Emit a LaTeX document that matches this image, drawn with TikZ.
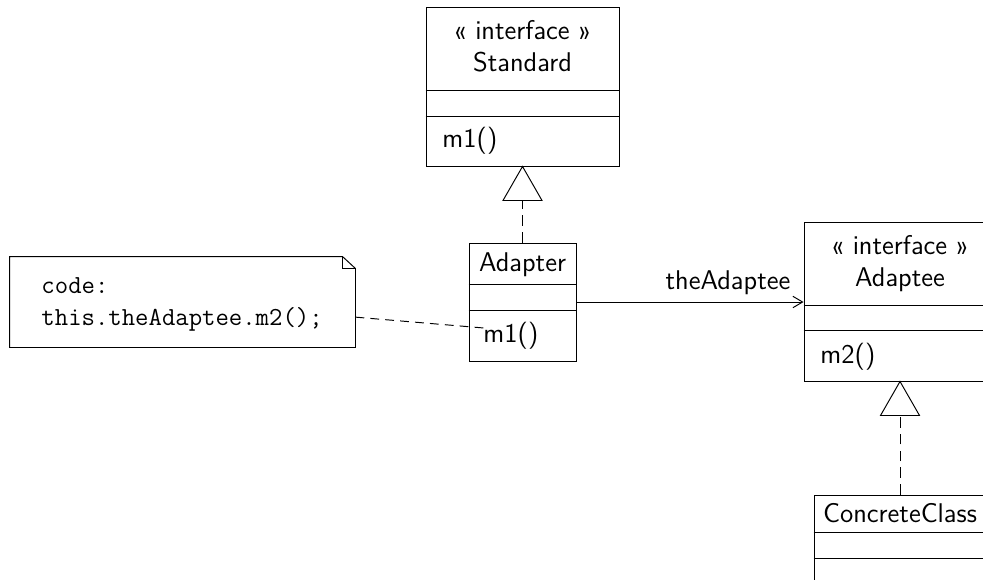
\documentclass[tikz,border=0pt]{standalone}
\usepackage{fontspec}
\usetikzlibrary{fit,calc,arrows.meta}
\newcommand\umlsf{\fontsize{15.4}{18}\selectfont\sffamily}
\newcommand\umltt{\fontsize{14.8}{18}\selectfont\ttfamily}
\begin{document}
\begin{tikzpicture}[x=0.02cm,y=-0.02cm,line width=0.55pt,
  cls/.style={draw, inner sep=0pt},
  sftext/.style={inner sep=0pt, anchor=base, font=\umlsf},
  sfleft/.style={inner sep=0pt, anchor=base west, font=\umlsf},
  tttext/.style={inner sep=0pt, anchor=base west, font=\umltt},
  realize/.style={dash pattern=on 6pt off 3.5pt},
  notelink/.style={dash pattern=on 5pt off 3.5pt},
  assoc/.style={-{Straight Barb[length=5.5pt,width=6.5pt]}}]
\useasboundingbox (0,0) rectangle (983,579);
\clip (0,0) rectangle (983,579);

% Standard
\node[cls, fit={(426,7)(619,166)}] (std) {};
\draw (std.west |- 0,90) -- (std.east |- 0,90);
\draw (std.west |- 0,116) -- (std.east |- 0,116);
\node[sftext] (stdst) at (522.5,39) {« interface »};
\node[sftext] (stdname) at (522.5,71) {Standard};
\node[sfleft] (stdm1) at (442,147) {m1()};

% Adapter
\node[cls, fit={(469,243)(576,361)}] (adapter) {};
\draw (adapter.west |- 0,284) -- (adapter.east |- 0,284);
\draw (adapter.west |- 0,310) -- (adapter.east |- 0,310);
\node[sftext] (adname) at (522.5,271) {Adapter};
\node[sfleft] (adm1) at (483,342) {m1()};

% Adaptee
\node[cls, fit={(804,222)(996,381)}] (adaptee) {};
\draw (adaptee.west |- 0,305) -- (adaptee.east |- 0,305);
\draw (adaptee.west |- 0,330) -- (adaptee.east |- 0,330);
\node[sftext] (aest) at (900,254) {« interface »};
\node[sftext] (aename) at (900,286) {Adaptee};
\node[sfleft] (aem2) at (820,363) {m2()};

% ConcreteClass
\node[cls, fit={(814,495)(986,600)}] (concrete) {};
\draw (concrete.west |- 0,532) -- (concrete.east |- 0,532);
\draw (concrete.west |- 0,558) -- (concrete.east |- 0,558);
\node[sftext] (ccname) at (900,522) {ConcreteClass};

% Note
\node[inner sep=0pt, fit={(10,257)(355,347)}] (note) {};
\draw (note.north west) -- ($(note.north east)+(-13,0)$) -- ($(note.north east)+(0,12)$)
      -- (note.south east) -- (note.south west) -- cycle;
\draw ($(note.north east)+(-13,0)$) -- ($(note.north east)+(-13,12)$) -- ($(note.north east)+(0,12)$);
\node[tttext] (code1) at (41,293) {code:};
\node[tttext] (code2) at (41,325) {this.theAdaptee.m2();};

% realization Adapter -> Standard
\draw (std.south) -- ++(-19.5,34) -- ++(39,0) -- cycle;
\coordinate (t1) at ($(std.south)+(0,34)$);
\draw[realize] (adapter.north) -- (t1);

% realization ConcreteClass -> Adaptee
\draw (adaptee.south) -- ++(-19.5,34) -- ++(39,0) -- cycle;
\coordinate (t2) at ($(adaptee.south)+(0,34)$);
\draw[realize] (concrete.north) -- (t2);

% association
\draw[assoc] (adapter.east) -- (adapter.east -| adaptee.west);
\node[sftext] (role) at (728,289) {theAdaptee};

% note link
\coordinate (m1pt) at (484,328);
\draw[notelink] (note.-5) -- (m1pt);
\end{tikzpicture}
\end{document}
